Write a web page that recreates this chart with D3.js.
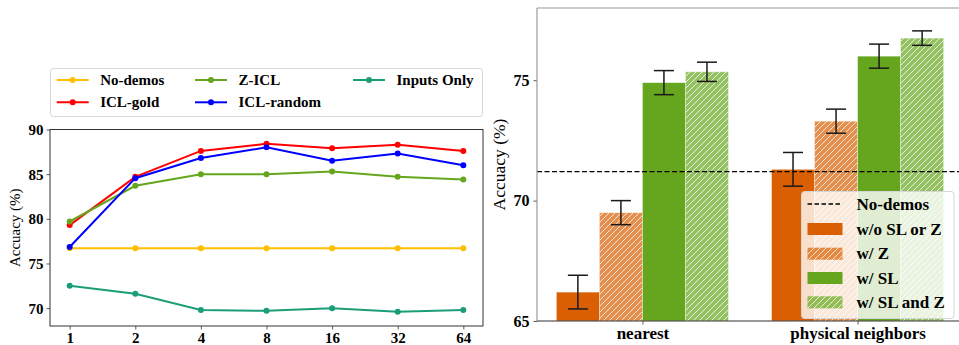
<!DOCTYPE html>
<html><head><meta charset="utf-8">
<script src="https://cdn.jsdelivr.net/npm/d3@7"></script>
<style>
html,body{margin:0;padding:0;background:#fff;}
svg{display:block;}
svg text{font-family:'Liberation Serif','Times New Roman',serif;}
</style></head>
<body>
<svg id="c" width="959" height="345"></svg>
<script>
// ---------- Left chart data ----------
const shots = ["1","2","4","8","16","32","64"];
const noDemos = [76.7,76.7,76.7,76.7,76.7,76.7,76.7];
const iclGold = [79.3,84.7,87.6,88.4,87.9,88.3,87.6];
const zIcl = [79.7,83.7,85.0,85.0,85.3,84.7,84.4];
const iclRandom = [76.85,84.55,86.8,88.0,86.5,87.3,86.0];
const inputsOnly = [72.5,71.6,69.8,69.7,70.0,69.6,69.8];
const leftSeriesNames = ["No-demos","ICL-gold","Z-ICL","ICL-random","Inputs Only"];
const leftYTicks = [70,75,80,85,90];

// ---------- Right chart data ----------
const groups = ["nearest","physical neighbors"];
const barNames = ["w/o SL or Z","w/ Z","w/ SL","w/ SL and Z"];
const woSLorZ = [66.2,71.3];
const wZ = [69.5,73.3];
const wSL = [74.9,76.0];
const wSLandZ = [75.35,76.75];
const errWoSLorZ = [0.7,0.7];
const errWZ = [0.5,0.5];
const errWSL = [0.5,0.5];
const errWSLandZ = [0.4,0.3];
const noDemosBaseline = 71.2;
const rightYTicks = [65,70,75];

const svg = d3.select("#c");
const FONT = "'Liberation Serif','Times New Roman',serif";

// ================= LEFT =================
const L = {x0:50, x1:483, y0:129.5, y1:326};
const xL = d3.scaleLinear().domain([-0.3,6.3]).range([L.x0,L.x1]);
const yL = d3.scaleLinear().domain([68,90]).range([L.y1,L.y0]);
const leftColors = ["#FFBF00","#FF0000","#66A61E","#0000FF","#1B9E77"];
const leftData = [noDemos,iclGold,zIcl,iclRandom,inputsOnly];

const gL = svg.append("g");
const axL = gL.append("g").attr("transform",`translate(${L.x0},0)`)
  .call(d3.axisLeft(yL).tickValues(leftYTicks).tickSize(3.5).tickPadding(3));
const axB = gL.append("g").attr("transform",`translate(0,${L.y1})`)
  .call(d3.axisBottom(xL).tickValues(d3.range(shots.length)).tickFormat(i=>shots[i]).tickSize(3.5).tickPadding(3));
[axL,axB].forEach(a=>{
  a.attr("font-family",null).attr("font-size",null);
  a.select(".domain").remove();
  a.selectAll(".tick line").attr("stroke","#333").attr("stroke-width",0.8);
  a.selectAll(".tick text").style("font-family",FONT).attr("font-weight","bold").attr("font-size",15).attr("fill","#000");
});
axB.selectAll(".tick text").attr("dy","0.71em");
axL.selectAll(".tick text").attr("dy","0.33em");
gL.append("rect").attr("x",L.x0).attr("y",L.y0).attr("width",L.x1-L.x0).attr("height",L.y1-L.y0)
  .attr("fill","none").attr("stroke","#333").attr("stroke-width",1);

const line = d3.line().x((d,i)=>xL(i)).y(d=>yL(d));
leftData.forEach((arr,k)=>{
  gL.append("path").datum(arr).attr("d",line).attr("fill","none")
    .attr("stroke",leftColors[k]).attr("stroke-width",2);
  gL.selectAll(null).data(arr).enter().append("circle")
    .attr("cx",(d,i)=>xL(i)).attr("cy",d=>yL(d)).attr("r",3).attr("fill",leftColors[k]);
});
gL.append("text").attr("transform",`translate(20,${(L.y0+L.y1)/2}) rotate(-90)`)
  .attr("text-anchor","middle").attr("font-size",15).style("font-family",FONT).text("Accuacy (%)");

// left legend
const lg = gL.append("g");
lg.append("rect").attr("x",50.5).attr("y",68.5).attr("width",432).attr("height",48).attr("rx",3)
  .attr("fill","#fff").attr("stroke","#d6d6d6").attr("stroke-width",1);
const colX = [56.7,195,353];
const rowY = [80,102.3];
leftSeriesNames.forEach((n,k)=>{
  const c = Math.floor(k/2), r = k%2;
  const x = colX[c], y = rowY[r];
  lg.append("line").attr("x1",x).attr("x2",x+32).attr("y1",y).attr("y2",y)
    .attr("stroke",leftColors[k]).attr("stroke-width",2);
  lg.append("circle").attr("cx",x+16).attr("cy",y).attr("r",3).attr("fill",leftColors[k]);
  lg.append("text").attr("x",x+43.5).attr("y",y+5).attr("font-size",15).attr("font-weight","bold")
    .style("font-family",FONT).text(n);
});

// ================= RIGHT =================
const R = {x0:537, x1:963, y0:8, y1:321};
const xR = d3.scaleLinear().domain([-0.49,1.49]).range([R.x0,R.x1]);
const yR = d3.scaleLinear().domain([65,78]).range([R.y1,R.y0]);
const barColors = ["#D95F02","#D95F02","#66A61E","#66A61E"];
const barAlpha = [1,0.7,1,0.7];
const barHatch = [false,true,false,true];
const barVals = [woSLorZ,wZ,wSL,wSLandZ];
const barErrs = [errWoSLorZ,errWZ,errWSL,errWSLandZ];
const bw = 0.2;

const defs = svg.append("defs");
const pat = defs.append("pattern").attr("id","hatch").attr("patternUnits","userSpaceOnUse")
  .attr("width",6).attr("height",6);
pat.append("path").attr("d","M-1,1 l2,-2 M0,6 l6,-6 M5,7 l2,-2")
  .attr("stroke","#fff").attr("stroke-width",1).attr("stroke-opacity",0.75);

const gR = svg.append("g");
groups.forEach((gname,gi)=>{
  barVals.forEach((arr,bi)=>{
    const cx = gi + (bi-1.5)*bw;
    const xa = xR(cx-bw/2), xb = xR(cx+bw/2);
    gR.append("rect").attr("x",xa).attr("y",yR(arr[gi])).attr("width",xb-xa).attr("height",yR(65)-yR(arr[gi]))
      .attr("fill",barColors[bi]).attr("fill-opacity",barAlpha[bi])
      .attr("stroke","#fff").attr("stroke-opacity",0.5).attr("stroke-width",0.8);
    if(barHatch[bi]){
      gR.append("rect").attr("x",xa).attr("y",yR(arr[gi])).attr("width",xb-xa).attr("height",yR(65)-yR(arr[gi]))
        .attr("fill","url(#hatch)");
    }
  });
});
groups.forEach((gname,gi)=>{
  barVals.forEach((arr,bi)=>{
    const cx = xR(gi + (bi-1.5)*bw);
    const v = arr[gi], e = barErrs[bi][gi];
    const eg = gR.append("g").attr("stroke","#1a1a1a").attr("stroke-width",1.5);
    eg.append("line").attr("x1",cx).attr("x2",cx).attr("y1",yR(v+e)).attr("y2",yR(v-e));
    eg.append("line").attr("x1",cx-10).attr("x2",cx+10).attr("y1",yR(v+e)).attr("y2",yR(v+e));
    eg.append("line").attr("x1",cx-10).attr("x2",cx+10).attr("y1",yR(v-e)).attr("y2",yR(v-e));
  });
});
gR.append("line").attr("x1",R.x0).attr("x2",R.x1).attr("y1",yR(noDemosBaseline)).attr("y2",yR(noDemosBaseline))
  .attr("stroke","#000").attr("stroke-width",1.3).attr("stroke-dasharray","5,2.5");

const axRL = gR.append("g").attr("transform",`translate(${R.x0},0)`)
  .call(d3.axisLeft(yR).tickValues(rightYTicks).tickSize(3.5).tickPadding(4));
const axRB = gR.append("g").attr("transform",`translate(0,${R.y1})`)
  .call(d3.axisBottom(xR).tickValues([0,1]).tickFormat(i=>groups[i]).tickSize(3.5).tickPadding(3));
[axRL,axRB].forEach(a=>{
  a.attr("font-family",null).attr("font-size",null);
  a.select(".domain").remove();
  a.selectAll(".tick line").attr("stroke","#333").attr("stroke-width",0.8);
  a.selectAll(".tick text").style("font-family",FONT).attr("font-weight","bold").attr("fill","#000");
});
axRL.selectAll(".tick text").attr("font-size",16).attr("dy","0.33em");
axRB.selectAll(".tick text").attr("font-size",17).attr("dy","0.68em");
gR.append("line").attr("x1",R.x0).attr("x2",R.x0).attr("y1",R.y0).attr("y2",R.y1).attr("stroke","#999").attr("stroke-width",1.2);
gR.append("line").attr("x1",R.x0).attr("x2",R.x1).attr("y1",R.y0).attr("y2",R.y0).attr("stroke","#999").attr("stroke-width",1.2);
gR.append("line").attr("x1",R.x0).attr("x2",R.x1).attr("y1",R.y1).attr("y2",R.y1).attr("stroke","#333").attr("stroke-width",1.2);
gR.append("line").attr("x1",R.x1).attr("x2",R.x1).attr("y1",R.y0).attr("y2",R.y1).attr("stroke","#999").attr("stroke-width",1.2);

gR.append("text").attr("transform",`translate(505,${(R.y0+R.y1)/2}) rotate(-90)`)
  .attr("text-anchor","middle").attr("font-size",17.5).style("font-family",FONT).text("Accuacy (%)");

const rg = gR.append("g");
rg.append("rect").attr("x",801.5).attr("y",191.5).attr("width",152.5).attr("height",127).attr("rx",3)
  .attr("fill","#fff").attr("fill-opacity",0.8).attr("stroke","#d6d6d6").attr("stroke-width",1);
const legY = [204,229,253.7,278,302.3];
const hx = 807.5, hw = 35;
rg.append("line").attr("x1",hx).attr("x2",hx+hw).attr("y1",legY[0]).attr("y2",legY[0])
  .attr("stroke","#000").attr("stroke-width",1.3).attr("stroke-dasharray","4.5,2.5");
rg.append("text").attr("x",856.5).attr("y",legY[0]+5.5).attr("font-size",17).attr("font-weight","bold")
  .style("font-family",FONT).text("No-demos");
barNames.forEach((n,bi)=>{
  const y = legY[bi+1];
  rg.append("rect").attr("x",hx).attr("y",y-6).attr("width",hw).attr("height",12)
    .attr("fill",barColors[bi]).attr("fill-opacity",barAlpha[bi]);
  if(barHatch[bi]) rg.append("rect").attr("x",hx).attr("y",y-6).attr("width",hw).attr("height",12).attr("fill","url(#hatch)");
  rg.append("text").attr("x",856.5).attr("y",y+5.5).attr("font-size",17).attr("font-weight","bold")
    .style("font-family",FONT).text(n);
});
</script>
</body></html>
